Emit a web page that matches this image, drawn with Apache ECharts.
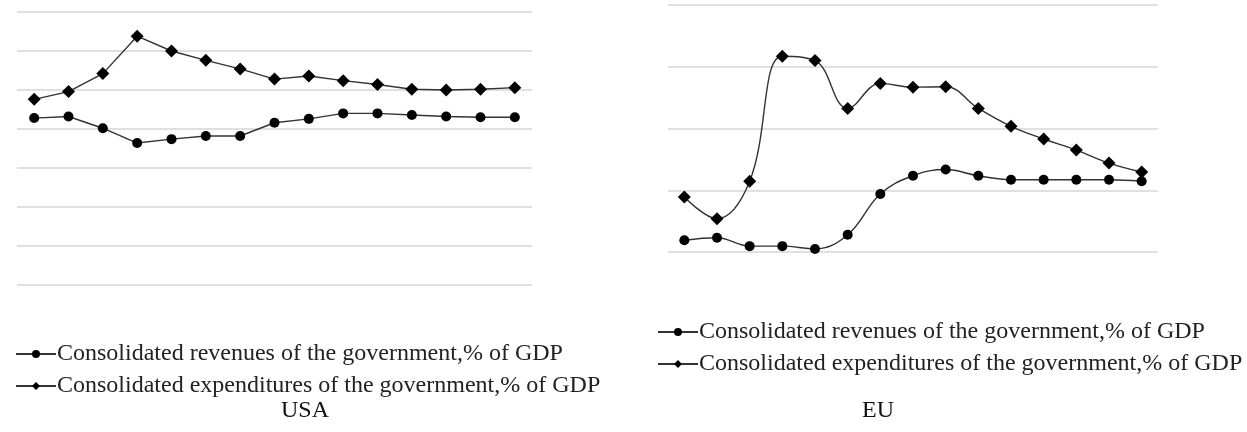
<!DOCTYPE html>
<html>
<head>
<meta charset="utf-8">
<script src="https://cdn.jsdelivr.net/npm/echarts@6/dist/echarts.min.js"></script>
<style>
  html, body { margin: 0; padding: 0; background: #fff; }
  #chart { width: 1247px; height: 432px; }
</style>
</head>
<body>
<div id="chart"></div>
<script>
// Fifteen yearly observations per panel
const years = ['1','2','3','4','5','6','7','8','9','10','11','12','13','14','15'];

const seriesNames = [
  'Consolidated revenues of the government,% of GDP',
  'Consolidated expenditures of the government,% of GDP'
];

// USA, % of GDP
const usaRevenues     = [31.4, 31.6, 30.1, 28.2, 28.7, 29.1, 29.1, 30.8, 31.3, 32.0, 32.0, 31.8, 31.6, 31.5, 31.5];
const usaExpenditures = [33.8, 34.8, 37.1, 41.9, 40.0, 38.8, 37.7, 36.4, 36.8, 36.2, 35.7, 35.1, 35.0, 35.1, 35.3];

// EU, % of GDP
const euRevenues      = [42.38, 42.46, 42.19, 42.19, 42.10, 42.56, 43.88, 44.47, 44.67, 44.47, 44.34, 44.34, 44.34, 44.34, 44.29];
const euExpenditures  = [43.78, 43.08, 44.29, 48.34, 48.20, 46.65, 47.46, 47.34, 47.35, 46.65, 46.07, 45.66, 45.30, 44.88, 44.59];

const FONT = '"Liberation Serif", "Times New Roman", serif';
const LINE = '#333';
const MARK = '#000';
const GRIDLINE = '#d6d6d6';

function xAxis(gridIndex) {
  return {
    type: 'category', gridIndex, data: years, boundaryGap: true,
    axisLine: { show: false }, axisTick: { show: false }, axisLabel: { show: false }
  };
}
function yAxis(gridIndex, min, max, interval) {
  return {
    type: 'value', gridIndex, min, max, interval,
    axisLine: { show: false }, axisTick: { show: false }, axisLabel: { show: false },
    splitLine: { show: true, lineStyle: { color: GRIDLINE, width: 1.5 } }
  };
}
function lineSeries(name, data, idx, symbol, size, smooth) {
  return {
    name, type: 'line', data, xAxisIndex: idx, yAxisIndex: idx,
    symbol, symbolSize: size, smooth,
    lineStyle: { color: LINE, width: 1.4 },
    itemStyle: { color: MARK },
    emphasis: { disabled: true }
  };
}
function legend(left, top) {
  return {
    left, top, orient: 'vertical', itemGap: 8,
    itemWidth: 40, itemHeight: 10,
    data: seriesNames,
    selectedMode: false,
    textStyle: { fontFamily: FONT, fontSize: 24, color: '#222', padding: [0, 0, 0, -4] }
  };
}

const chart = echarts.init(document.getElementById('chart'), null, { renderer: 'canvas' });
chart.setOption({
  animation: false,
  backgroundColor: '#fff',
  title: [
    { text: 'USA', left: 300, top: 394, textAlign: 'center',
      textStyle: { fontFamily: FONT, fontSize: 24, fontWeight: 'normal', color: '#111' } },
    { text: 'EU', left: 873, top: 394, textAlign: 'center',
      textStyle: { fontFamily: FONT, fontSize: 24, fontWeight: 'normal', color: '#111' } }
  ],
  legend: [legend(10, 337), legend(652, 315)],
  grid: [
    { left: 17, top: 12, width: 515, height: 273 },
    { left: 668, top: 5, width: 490, height: 247 }
  ],
  xAxis: [xAxis(0), xAxis(1)],
  yAxis: [yAxis(0, 10, 45, 5), yAxis(1, 42, 50, 2)],
  series: [
    lineSeries(seriesNames[0], usaRevenues, 0, 'circle', 10, false),
    lineSeries(seriesNames[1], usaExpenditures, 0, 'diamond', 13, false),
    lineSeries(seriesNames[0], euRevenues, 1, 'circle', 10, 0.4),
    lineSeries(seriesNames[1], euExpenditures, 1, 'diamond', 13, 0.4)
  ]
});
</script>
</body>
</html>
